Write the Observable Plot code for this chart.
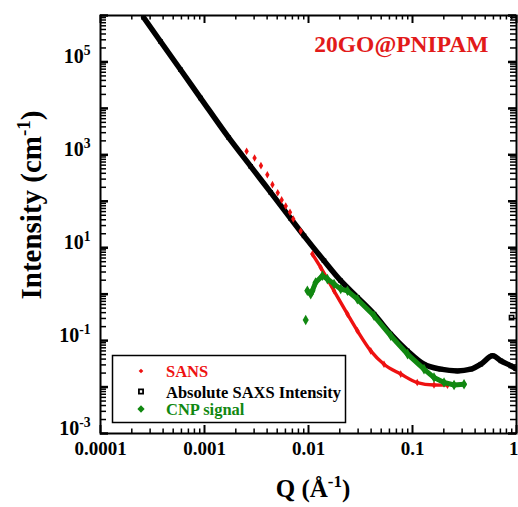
<!DOCTYPE html>
<html><head><meta charset="utf-8">
<script src="https://cdn.jsdelivr.net/npm/d3@7"></script>
<script src="https://cdn.jsdelivr.net/npm/@observablehq/plot@0.6"></script>
<style>
body{margin:0;background:#fff;}
#chart{position:relative;width:518px;height:507px;overflow:hidden;}
</style>
</head><body><div id="chart"></div>
<script>
// ---- data ----
const saxsQ = [2.6e-4, 3.78e-4, 5.89e-4, 9.17e-4, 1.71e-3, 2.78e-3, 4.33e-3, 6.74e-3, 9.06e-3, 0.0141, 0.0204, 0.0296, 0.0427, 0.0618, 0.0895, 0.129, 0.187, 0.271, 0.364, 0.454, 0.589, 0.708, 0.883, 0.98];
const saxsI = [9.06e5, 2.75e5, 6.8e4, 1.67e4, 2340, 565, 155, 42.6, 18, 5.25, 1.95, 0.85, 0.372, 0.138, 0.060, 0.031, 0.0243, 0.0223, 0.0243, 0.031, 0.047, 0.0367, 0.0286, 0.025];
const saxsStrayQ = [0.896];
const saxsStrayI = [0.314];
const sansQ = [2.54e-3, 3.03e-3, 3.49e-3, 4.02e-3, 4.5e-3, 5.06e-3, 5.52e-3, 6.04e-3, 6.64e-3, 7.14e-3, 8.41e-3, 0.0109, 0.0131, 0.0176, 0.0237, 0.0295, 0.0397, 0.0532, 0.0771, 0.111, 0.161, 0.217];
const sansI = [1190, 857, 585, 374, 228, 153, 107, 79, 58, 41.6, 23, 7.3, 3.76, 1.18, 0.372, 0.163, 0.060, 0.031, 0.019, 0.0125, 0.0111, 0.011];
const cnpQ = [9.4e-3, 9.75e-3, 0.0105, 0.0109, 0.0117, 0.0136, 0.0152, 0.0176, 0.0204, 0.0237, 0.0295, 0.0427, 0.0618, 0.0895, 0.129, 0.161, 0.201, 0.251, 0.313];
const cnpI = [0.277, 1.18, 1.0, 1.18, 1.79, 2.49, 2.11, 1.65, 1.29, 1.18, 0.78, 0.342, 0.127, 0.0512, 0.0243, 0.016, 0.0125, 0.0111, 0.0115];

const xTickValues = [1e-4, 1e-3, 1e-2, 1e-1, 1];
const xTickLabels = ["0.0001", "0.001", "0.01", "0.1", "1"];
const yTickValues = [1e-3, 1e-1, 1e1, 1e3, 1e5];
const yTickExponents = ["-3", "-1", "1", "3", "5"];
const legendLabels = ["SANS", "Absolute SAXS Intensity", "CNP signal"];
const seriesColors = ["#ee1111", "#000000", "#118811"];
const annotation = "20GO@PNIPAM";

// ---- build tables ----
const rows = (qs, is) => qs.map((q, i) => ({q, I: is[i]}));
const saxs = rows(saxsQ, saxsI);
const saxsStray = rows(saxsStrayQ, saxsStrayI);
const sans = rows(sansQ, sansI);
const cnp = rows(cnpQ, cnpI);

const decades = (a, b) => d3.range(a, b + 1).map(e => Math.pow(10, e));
const minors = (a, b) => decades(a, b - 1).flatMap(d => d3.range(2, 10).map(k => k * d));
const xMajor = decades(-4, 0), xMinor = minors(-4, 0);
const yMajor = decades(-3, 6), yMinor = minors(-3, 6);
const idxOf = (arr, d) => arr.findIndex(v => Math.abs(Math.log10(v) - Math.log10(d)) < 1e-6);

const W = 518, H = 507, ML = 100, MR = 2, MT = 15, MB = 74;
const FW = W - ML - MR, FH = H - MT - MB;
const FONT = "Liberation Serif, Times New Roman, serif";
const majLen = 8, minLen = 4.5;

const plot = Plot.plot({
  width: W, height: H,
  marginLeft: ML, marginRight: MR, marginTop: MT, marginBottom: MB,
  style: {fontFamily: FONT, background: "white", color: "black"},
  x: {type: "log", domain: [1e-4, 1]},
  y: {type: "log", domain: [1e-3, 1e6]},
  marks: [
    // SAXS
    Plot.line(saxs, {x: "q", y: "I", stroke: seriesColors[1], strokeWidth: 5.5, curve: "monotone-x", clip: true}),
    Plot.dot(saxs, {x: "q", y: "I", symbol: "square", r: 2.6, fill: seriesColors[1], clip: true}),
    Plot.dot(saxsStray, {x: "q", y: "I", symbol: "square", r: 2.4, stroke: seriesColors[1], strokeWidth: 1.5, fill: "white"}),
    // SANS
    Plot.line(sans.filter(d => d.q >= 0.0105), {x: "q", y: "I", stroke: seriesColors[0], strokeWidth: 3.4, curve: "monotone-x"}),
    Plot.dot(sans, {x: "q", y: "I", symbol: "diamond", r: 2.3, fill: seriesColors[0]}),
    // CNP
    Plot.line(cnp.filter(d => d.q >= 0.0097), {x: "q", y: "I", stroke: seriesColors[2], strokeWidth: 5}),
    Plot.dot(cnp, {x: "q", y: "I", symbol: "diamond", r: 3.2, fill: seriesColors[2]}),
    // inward ticks (bottom/top/left/right)
    Plot.tickX(xMajor, {x: d => d, insetTop: FH - majLen, stroke: "black", strokeWidth: 2}),
    Plot.tickX(xMinor, {x: d => d, insetTop: FH - minLen, stroke: "black", strokeWidth: 1.5}),
    Plot.tickX(xMajor, {x: d => d, insetBottom: FH - majLen, stroke: "black", strokeWidth: 2}),
    Plot.tickX(xMinor, {x: d => d, insetBottom: FH - minLen, stroke: "black", strokeWidth: 1.5}),
    Plot.tickY(yMajor, {y: d => d, insetRight: FW - majLen, stroke: "black", strokeWidth: 2.5}),
    Plot.tickY(yMinor, {y: d => d, insetRight: FW - minLen - 1.5, stroke: "black", strokeWidth: 1.5}),
    Plot.tickY(yMajor, {y: d => d, insetLeft: FW - majLen, stroke: "black", strokeWidth: 2.5}),
    Plot.tickY(yMinor, {y: d => d, insetLeft: FW - minLen - 1.5, stroke: "black", strokeWidth: 1.5}),
    Plot.frame({stroke: "black", strokeWidth: 2}),
    Plot.axisX({ticks: xTickValues, tickFormat: d => xTickLabels[idxOf(xTickValues, d)],
      tickSize: 0, tickPadding: 8, fontSize: 19, fontWeight: "bold", fontFamily: FONT, label: null}),
    Plot.axisY({ticks: yTickValues, tickFormat: d => "10^" + yTickExponents[idxOf(yTickValues, d)],
      tickSize: 0, tickPadding: 10, fontSize: 20, fontWeight: "bold", fontFamily: FONT, label: null, dy: -5}),
    Plot.text([annotation], {frameAnchor: "top-right", textAnchor: "end", lineAnchor: "middle", dx: -28, dy: 29,
      text: d => d, fill: "#e21a1a", fontSize: 23.5, fontWeight: "bold", fontFamily: FONT})
  ]
});
document.getElementById("chart").appendChild(plot);

const svg = d3.select(plot);
svg.attr("font-family", FONT);
// superscripts on y tick labels
svg.selectAll('g[aria-label="y-axis tick label"] text').each(function () {
  const parts = this.textContent.split("^");
  const t = d3.select(this);
  t.text(parts[0]);
  t.append("tspan").attr("dy", "-0.6em").attr("font-size", "0.68em").text(parts[1]);
});
svg.selectAll('g[aria-label="x-axis tick label"] text, g[aria-label="y-axis tick label"] text')
  .attr("font-weight", "bold").attr("fill", "black");
// keep the last x label ("1") inside the picture at the right edge
svg.selectAll('g[aria-label="x-axis tick label"] text').filter(function () { return this.textContent === "1"; })
  .attr("text-anchor", "end").attr("dx", 2);

// axis titles
const titles = svg.append("g").attr("font-family", FONT).attr("font-weight", "bold").attr("fill", "black");
const yt = titles.append("text").attr("transform", "translate(41,205) rotate(-90)").attr("text-anchor", "middle").attr("font-size", 29);
yt.append("tspan").text("Intensity (cm");
yt.append("tspan").attr("dy", -11).attr("font-size", 19).text("-1");
yt.append("tspan").attr("dy", 11).text(")");
const xt = titles.append("text").attr("x", 313).attr("y", 497).attr("text-anchor", "middle").attr("font-size", 25);
xt.append("tspan").text("Q (Å");
xt.append("tspan").attr("dy", -10).attr("font-size", 17).text("-1");
xt.append("tspan").attr("dy", 10).text(")");

// legend
const lg = svg.append("g").attr("font-family", FONT).attr("font-weight", "bold");
lg.append("rect").attr("x", 112.5).attr("y", 355.5).attr("width", 233).attr("height", 67)
  .attr("fill", "white").attr("stroke", "black").attr("stroke-width", 1.5);
const rowY = [371, 391.5, 409];
const sym = [d3.symbol(d3.symbolDiamond2, 14)(), d3.symbol(d3.symbolSquare2, 22)(), d3.symbol(d3.symbolDiamond2, 34)()];
legendLabels.forEach((lab, i) => {
  const m = lg.append("path").attr("d", sym[i]).attr("transform", `translate(141,${rowY[i]})`);
  if (i === 1) m.attr("fill", "white").attr("stroke", "black").attr("stroke-width", 1.8);
  else m.attr("fill", seriesColors[i]);
  lg.append("text").attr("x", 166).attr("y", rowY[i] + 6).attr("font-size", 16.5)
    .attr("text-anchor", "start").attr("fill", seriesColors[i]).text(lab);
});
</script>
</body></html>
